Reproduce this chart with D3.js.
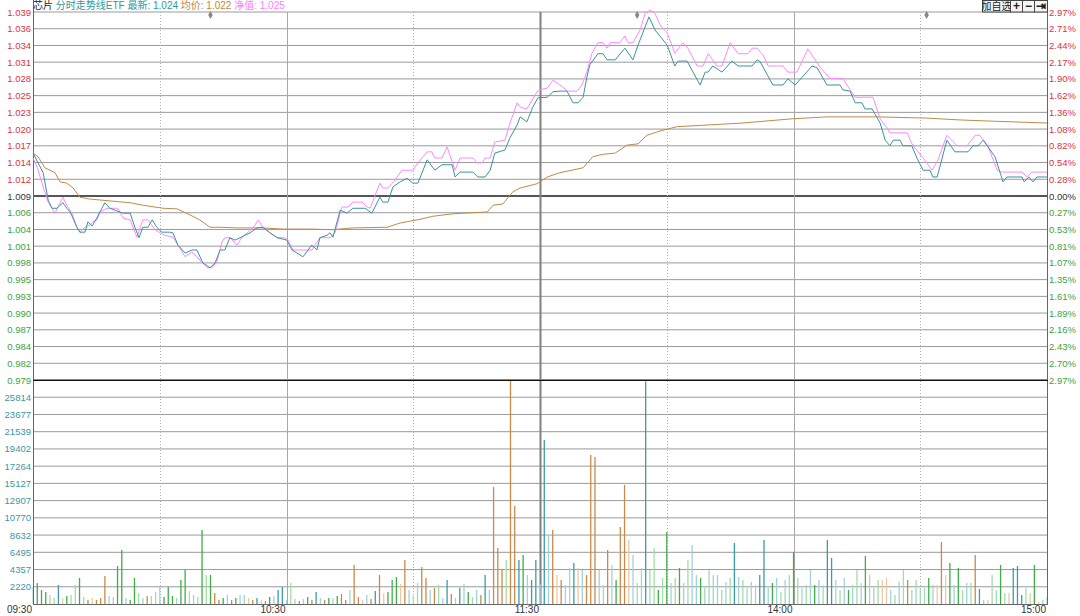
<!DOCTYPE html>
<html><head><meta charset="utf-8">
<script src="https://cdn.jsdelivr.net/npm/d3@7/dist/d3.min.js"></script>
<style>
html,body{margin:0;padding:0;background:#fff;}
svg{display:block;font-family:"Liberation Sans","Noto Sans CJK SC",Arial,sans-serif;}
</style></head>
<body><svg id="c" width="1080" height="616"></svg>
<script>
// ---------------- DATA ----------------
const prevClose = 1.009;
const priceTickLabels = ["1.039","1.036","1.034","1.031","1.028","1.025","1.023","1.020","1.017","1.014","1.012","1.009",
  "1.006","1.004","1.001","0.998","0.995","0.993","0.990","0.987","0.984","0.982","0.979"];
const pctTickLabels = ["2.97%","2.71%","2.44%","2.17%","1.90%","1.62%","1.36%","1.08%","0.82%","0.54%","0.28%","0.00%",
  "0.27%","0.53%","0.81%","1.07%","1.35%","1.61%","1.89%","2.16%","2.43%","2.70%","2.97%"];
const volTickLabels = ["25814","23677","21539","19402","17264","15127","12907","10770","8632","6495","4357","2220"];
const timeLabels = ["09:30","10:30","11:30","14:00","15:00"];
const timeLabelMin = [0,60,120,180,240];
const solidMin = [60,120,180];
const dottedMin = [30,90,150,210];
const markerMin = [42,143,211.5];

// price line [minute, price]
const priceSeries = [[0,1.0160],[2.4,1.0128],[3.6,1.0083],[4.5,1.0070],[5.7,1.0070],[6.4,1.0075],[7.1,1.0079],[8.0,1.0070],[8.8,1.0064],[10.4,1.0039],[11.1,1.0031],[12.3,1.0031],[13.0,1.0048],[14.0,1.0041],[15.1,1.0054],[16.3,1.0070],[17.0,1.0079],[18.2,1.0070],[21.3,1.0062],[23.0,1.0062],[24.1,1.0039],[25.1,1.0022],[26.0,1.0039],[27.2,1.0039],[28.2,1.0051],[29.3,1.0039],[30.5,1.0031],[32.4,1.0031],[33.1,1.0030],[34.3,1.0010],[36.0,0.9997],[37.6,1.0002],[38.8,1.0002],[40.2,0.9981],[41.9,0.9973],[43.1,0.9981],[44.3,1.0002],[45.4,1.0002],[46.6,1.0022],[47.8,1.0018],[49.0,1.0022],[51.4,1.0030],[53.0,1.0038],[54.4,1.0039],[56.1,1.0030],[57.8,1.0022],[60.1,1.0018],[61.3,1.0002],[63.9,0.9991],[66.0,1.0010],[67.2,1.0002],[67.9,1.0022],[69.6,1.0026],[70.3,1.0030],[71.0,1.0023],[72.7,1.0067],[74.3,1.0062],[75.7,1.0070],[78.6,1.0070],[80.2,1.0062],[82.1,1.0088],[82.8,1.0080],[84.0,1.0080],[85.2,1.0105],[86.9,1.0113],[88.5,1.0119],[89.9,1.0111],[91.1,1.0111],[93.3,1.0149],[95.1,1.0132],[96.8,1.0141],[99.2,1.0141],[99.9,1.0121],[101.1,1.0129],[104.1,1.0129],[105.3,1.0121],[107.0,1.0121],[108.2,1.0132],[109.3,1.0160],[111.7,1.0165],[112.9,1.0185],[114.6,1.0206],[115.3,1.0219],[116.9,1.0211],[118.3,1.0235],[119.5,1.0250],[121.7,1.0251],[123.1,1.0260],[124.7,1.0261],[126.4,1.0261],[127.8,1.0242],[129.0,1.0242],[130.2,1.0251],[131.1,1.0284],[131.8,1.0304],[133.7,1.0322],[134.9,1.0322],[135.9,1.0312],[137.8,1.0312],[140.1,1.0331],[142.0,1.0312],[143.2,1.0336],[145.8,1.0382],[147.2,1.0361],[150.1,1.0336],[151.9,1.0302],[152.7,1.0310],[154.8,1.0310],[157.9,1.0271],[159.1,1.0292],[159.8,1.0292],[160.9,1.0302],[163.1,1.0292],[165.4,1.0310],[166.9,1.0302],[170.2,1.0302],[171.4,1.0312],[172.1,1.0309],[175.1,1.0271],[177.5,1.0271],[178.7,1.0281],[180.4,1.0271],[184.4,1.0302],[185.6,1.0299],[187.9,1.0271],[191.0,1.0271],[191.7,1.0263],[193.4,1.0261],[194.6,1.0242],[196.2,1.0242],[196.9,1.0232],[198.6,1.0232],[200.5,1.0209],[201.7,1.0181],[202.8,1.0172],[203.6,1.0181],[205.2,1.0181],[205.9,1.0172],[208.0,1.0172],[209.2,1.0152],[210.7,1.0132],[212.3,1.0132],[213.0,1.0121],[214.0,1.0121],[216.3,1.0181],[218.2,1.0162],[221.3,1.0162],[222.5,1.0172],[223.7,1.0172],[224.9,1.0181],[227.7,1.0154],[229.6,1.0113],[230.5,1.0121],[234.1,1.0121],[234.6,1.0113],[235.7,1.0121],[236.7,1.0113],[237.6,1.0121],[239.5,1.0121],[240,1.0121]];

// net value (IOPV) line [minute, value]
const navSeries = [[0,1.0152],[1.0,1.0137],[2.4,1.0105],[3.6,1.0080],[5.2,1.0062],[6.4,1.0079],[7.1,1.0088],[8.0,1.0075],[9.2,1.0062],[10.4,1.0039],[11.1,1.0031],[12.3,1.0039],[13.5,1.0043],[14.2,1.0048],[15.1,1.0051],[15.9,1.0064],[17.5,1.0070],[20.1,1.0070],[21.3,1.0054],[23.0,1.0051],[24.6,1.0023],[26.0,1.0051],[27.2,1.0051],[28.9,1.0035],[30.1,1.0030],[31.2,1.0026],[33.1,1.0023],[34.3,1.0010],[36.0,0.9991],[37.6,0.9999],[38.8,0.9991],[41.2,0.9973],[42.4,0.9974],[43.5,0.9982],[44.7,1.0015],[45.4,1.0022],[46.6,1.0022],[48.3,1.0010],[49.5,1.0023],[50.9,1.0031],[52.1,1.0038],[53.3,1.0051],[54.4,1.0039],[56.1,1.0030],[57.8,1.0022],[59.6,1.0022],[60.4,1.0018],[61.5,1.0002],[66.0,1.0002],[67.2,1.0015],[67.9,1.0022],[70.3,1.0022],[71.5,1.0030],[73.1,1.0072],[74.6,1.0072],[75.7,1.0080],[77.9,1.0080],[79.1,1.0072],[79.8,1.0070],[82.1,1.0111],[82.8,1.0103],[84.0,1.0103],[85.7,1.0116],[87.3,1.0132],[89.9,1.0132],[91.1,1.0144],[93.3,1.0162],[94.4,1.0162],[95.1,1.0152],[96.8,1.0152],[98.0,1.0170],[99.9,1.0132],[101.1,1.0152],[104.1,1.0152],[105.1,1.0144],[106.3,1.0144],[107.0,1.0152],[108.2,1.0152],[109.3,1.0178],[111.7,1.0181],[112.9,1.0209],[114.6,1.0242],[115.3,1.0235],[116.9,1.0232],[119.3,1.0260],[120.0,1.0263],[121.7,1.0266],[123.1,1.0279],[124.7,1.0271],[126.6,1.0261],[128.8,1.0261],[129.9,1.0271],[131.1,1.0292],[132.3,1.0323],[133.7,1.0340],[134.9,1.0340],[135.9,1.0331],[136.6,1.0340],[138.9,1.0340],[140.1,1.0351],[140.8,1.0340],[142.0,1.0340],[143.7,1.0361],[144.9,1.0388],[146.0,1.0393],[147.2,1.0388],[148.4,1.0369],[150.1,1.0356],[151.9,1.0323],[153.8,1.0340],[155.0,1.0331],[157.2,1.0302],[158.6,1.0302],[159.8,1.0322],[161.9,1.0302],[163.1,1.0302],[165.0,1.0340],[166.9,1.0322],[169.2,1.0322],[170.2,1.0331],[171.4,1.0331],[172.8,1.0320],[174.0,1.0302],[177.5,1.0302],[178.7,1.0292],[180.8,1.0292],[182.0,1.0309],[183.4,1.0330],[186.3,1.0300],[188.6,1.0282],[191.7,1.0281],[193.4,1.0263],[194.6,1.0251],[198.8,1.0251],[200.5,1.0216],[202.1,1.0201],[202.8,1.0193],[206.9,1.0193],[207.6,1.0181],[208.3,1.0172],[209.5,1.0162],[210.7,1.0152],[212.8,1.0132],[214.2,1.0149],[216.3,1.0189],[218.7,1.0172],[221.1,1.0172],[223.0,1.0189],[224.1,1.0189],[226.0,1.0172],[228.2,1.0132],[229.3,1.0129],[234.1,1.0129],[235.3,1.0121],[236.4,1.0129],[239.5,1.0129],[240,1.0129]];

// average price line [minute, value]
const avgSeries = [[0,1.0160],[1.2,1.0154],[2.8,1.0136],[5.2,1.0128],[6.4,1.0113],[8.0,1.0111],[9.5,1.0103],[11.1,1.0088],[13.5,1.0085],[18.2,1.0082],[23.0,1.0079],[26.0,1.0075],[30.8,1.0070],[34.1,1.0069],[37.2,1.0059],[39.5,1.0051],[41.9,1.0039],[44.3,1.0039],[48.3,1.0038],[54.4,1.0038],[59.2,1.0036],[65.6,1.0036],[71.0,1.0035],[75.7,1.0038],[83.8,1.0039],[86.9,1.0046],[91.6,1.0052],[94.7,1.0057],[99.4,1.0061],[107.5,1.0064],[108.9,1.0075],[111.2,1.0077],[113.6,1.0097],[115.3,1.0103],[119.3,1.0110],[121.7,1.0121],[124.7,1.0128],[130.2,1.0136],[132.5,1.0154],[134.9,1.0158],[137.8,1.0160],[140.6,1.0173],[143.2,1.0175],[145.3,1.0189],[148.4,1.0196],[152.4,1.0203],[160.2,1.0206],[168.0,1.0209],[179.9,1.0216],[187.9,1.0219],[199.8,1.0219],[211.6,1.0217],[219.4,1.0214],[227.2,1.0212],[240,1.0209]];

// per-minute volume (241 minutes) and colour class
const volumes = [2110,2600,1740,1490,1120,740,2360,740,990,1120,2360,3230,870,500,740,500,740,3470,990,870,
  4710,6700,740,500,3230,1360,740,990,990,1490,2110,870,2110,990,740,2980,4220,1610,1120,870,
  9180,3600,3600,1360,500,740,1120,500,740,1120,1120,740,500,740,500,370,870,990,1740,2110,
  500,2600,620,370,620,870,500,1490,740,500,740,740,990,1240,500,1740,4840,870,500,1120,
  620,1610,3600,1360,1490,2980,3350,2480,5460,1740,990,2600,4590,3230,1740,1990,2360,740,2980,1240,
  740,1990,2480,1490,870,1740,1120,3600,1740,14520,6950,4220,5460,27790,12160,5460,6080,3600,2980,5460,
  2480,20350,8560,9180,3600,2980,2360,4470,5090,4470,4220,3600,18490,18240,4220,2360,6700,4840,2980,9550,
  14760,7940,6080,2600,4470,27600,4220,6950,1740,3230,8930,2600,3230,4470,2600,5460,7320,3600,3230,1990,
  4220,3600,3600,1740,2730,3230,7570,3350,2980,1990,2730,2360,3600,7940,1990,2600,3230,1490,2980,3600,
  6450,3230,1990,2360,4220,2360,2980,2360,7940,5710,2980,1740,3230,1740,2360,4220,2600,5960,3600,1990,
  2980,2980,3230,1740,1120,2730,4220,2980,1740,2980,1990,1990,3230,2360,2360,7690,3600,5090,2360,4470,
  1740,2600,2600,6080,1860,500,500,3600,1740,4840,1360,1360,4470,4710,1120,1990,1360,4840,250,500,870];
const volClass = ["lt","g","g","g","lg","lg","t","lo","g","lg","lg","g","lt","o","lo","o","o","o","lt","lt",
  "g","g","lt","g","g","lg","lt","o","lg","lg","lt","g","g","g","lt","g","g","lg","lt","lg",
  "g","lg","g","o","o","g","lt","o","g","lt","lt","lo","o","t","lo","o","g","lt","t","t",
  "lt","lg","lt","o","lt","g","o","t","lt","o","g","lt","g","o","o","lt","o","o","lo","lt",
  "o","t","o","lo","g","g","g","lo","o","lt","lg","lg","o","o","lt","o","lg","lt","t","o",
  "lt","t","lt","g","lg","lt","o","t","lt","o","o","o","lg","o","o","t","g","lt","t","t",
  "lt","t","lt","o","lo","o","lt","lt","t","lo","lt","o","o","o","lt","lg","o","lt","g","o",
  "o","lo","lt","lg","lt","t","lg","lg","g","lg","g","lt","lg","g","lt","lg","lt","lt","g","lt",
  "lg","lt","lt","lg","lt","lg","t","lt","lg","lt","lg","lt","t","t","lt","g","lt","lg","lt","lg",
  "g","lg","lt","lg","lt","g","lt","lg","t","t","lt","lg","lt","g","lt","lg","lt","g","lg","lt",
  "lg","lo","lo","lt","lg","lt","lg","o","lt","lg","lt","lg","g","lt","lo","o","lo","g","lt","g",
  "lg","lt","lg","o","t","lt","lo","lg","lt","g","lg","lo","t","t","t","lg","lo","g","lo","lt","lt"];
const volColors = {t:"#3a9ea8", lt:"#a3d2da", g:"#3fae47", lg:"#a6dca6", o:"#c98a4c", lo:"#ebc9a6"};

// ---------------- CHART ----------------
const L = 33, R = 1047, PT = 12, PB = 380, VB = 604;
const VMAX = 27790;
const svg = d3.select("#c");
const x = d3.scaleLinear().domain([0,240]).range([L,R]);
const yP = d3.scaleLinear().domain([prevClose-0.030, prevClose+0.030]).range([PB,PT]);
const yV = d3.scaleLinear().domain([0,VMAX]).range([VB,PB]);

const nP = priceTickLabels.length - 1;
const priceTickVals = priceTickLabels.map((s,i)=> prevClose+0.030 - i*0.060/nP);
const volTickVals = volTickLabels.map((s,i)=> VMAX*(volTickLabels.length - i)/13);

const g = svg.append("g");
// horizontal price grid
g.selectAll(".pg").data(priceTickVals).enter().append("line")
  .attr("x1",L).attr("x2",R).attr("y1",d=>yP(d)).attr("y2",d=>yP(d))
  .attr("stroke",(d,i)=> i===11 ? "#555" : (i===nP ? "#111" : "#9a9a9a"))
  .attr("stroke-width",(d,i)=> i===11 ? 2 : 1);
// volume grid
g.selectAll(".vg").data(volTickVals).enter().append("line")
  .attr("x1",L).attr("x2",R).attr("y1",d=>yV(d)).attr("y2",d=>yV(d))
  .attr("stroke","#9a9a9a").attr("stroke-width",1);

// vertical lines
g.selectAll(".vd").data(dottedMin).enter().append("line")
  .attr("x1",d=>Math.round(x(d))+0.5).attr("x2",d=>Math.round(x(d))+0.5).attr("y1",PT).attr("y2",VB)
  .attr("stroke","#b0b0b0").attr("stroke-dasharray","1,2");
g.selectAll(".vs").data(solidMin).enter().append("line")
  .attr("x1",d=>Math.round(x(d))+0.5).attr("x2",d=>Math.round(x(d))+0.5).attr("y1",PT).attr("y2",VB)
  .attr("stroke",d=>d===120?"#808080":"#a8a8a8").attr("stroke-width",d=>d===120?2:1);

// volume bars
g.selectAll(".vb").data(volumes).enter().append("rect")
  .attr("x",(d,i)=>x(i)-0.6).attr("width",1.3)
  .attr("y",d=>yV(d)).attr("height",d=>VB-yV(d))
  .attr("fill",(d,i)=>volColors[volClass[i]]);

// frame
g.append("line").attr("x1",L+0.5).attr("x2",L+0.5).attr("y1",PT-12).attr("y2",VB).attr("stroke","#666");
g.append("line").attr("x1",R+0.5).attr("x2",R+0.5).attr("y1",PT).attr("y2",VB).attr("stroke","#666");
g.append("line").attr("x1",L).attr("x2",R+1).attr("y1",VB+0.5).attr("y2",VB+0.5).attr("stroke","#666");
g.append("line").attr("x1",L).attr("x2",R+1).attr("y1",PB+0.5).attr("y2",PB+0.5).attr("stroke","#111");

// lines
const line = d3.line().x(d=>x(d[0])).y(d=>yP(d[1]));
g.append("path").datum(avgSeries).attr("d",line).attr("fill","none").attr("stroke","#c08a48").attr("stroke-width",1);
g.append("path").datum(navSeries).attr("d",line).attr("fill","none").attr("stroke","#ff88ff").attr("stroke-width",1);
g.append("path").datum(priceSeries).attr("d",line).attr("fill","none").attr("stroke","#3b939c").attr("stroke-width",1);

// markers
g.selectAll(".mk").data(markerMin).enter().append("path")
  .attr("d",d3.symbol().type(d3.symbolDiamond).size(18))
  .attr("transform",d=>`translate(${x(d)},${PT+3})`).attr("fill","#888");

// left price labels
g.selectAll(".pl").data(priceTickLabels).enter().append("text")
  .attr("x",L-2).attr("y",(d,i)=>yP(priceTickVals[i])+3.5).attr("text-anchor","end")
  .attr("font-size",9.5)
  .attr("fill",(d,i)=> i<11 ? "#e0323c" : (i===11 ? "#333" : "#3aa53a")).text(d=>d);
// right pct labels
g.selectAll(".rl").data(pctTickLabels).enter().append("text")
  .attr("x",R+2).attr("y",(d,i)=>yP(priceTickVals[i])+3.5).attr("text-anchor","start")
  .attr("font-size",9.5)
  .attr("fill",(d,i)=> i<11 ? "#e0323c" : (i===11 ? "#333" : "#3aa53a")).text(d=>d);
// volume labels
g.selectAll(".vl").data(volTickLabels).enter().append("text")
  .attr("x",L-2).attr("y",(d,i)=>yV(volTickVals[i])+3.5).attr("text-anchor","end")
  .attr("font-size",9.5).attr("fill","#3a98a8").text(d=>d);
// time labels
g.selectAll(".tl").data(timeLabels).enter().append("text")
  .attr("x",(d,i)=>x(timeLabelMin[i])-1).attr("y",613).attr("text-anchor","end")
  .attr("font-size",10).attr("fill","#333").text(d=>d);

// header
const hdr = g.append("text").attr("x",L).attr("y",9).attr("font-size",10);
hdr.append("tspan").attr("fill","#222").text("芯片 ");
hdr.append("tspan").attr("fill","#2c9aa2").text("分时走势线ETF 最新: 1.024 ");
hdr.append("tspan").attr("fill","#c08838").text("均价: 1.022 ");
hdr.append("tspan").attr("fill","#ff80ff").text("净值: 1.025");

// buttons top right
const btns = [{t:"加自选",w:28},{t:"+",w:12},{t:"−",w:12},{t:"⇥",w:13}];
let bx = 982;
btns.forEach(b=>{
  g.append("rect").attr("x",bx+0.5).attr("y",0.5).attr("width",b.w).attr("height",11.5)
    .attr("fill","#f4f4f4").attr("stroke","#444");
  g.append("text").attr("x",bx+b.w/2+0.5).attr("y",10).attr("text-anchor","middle")
    .attr("font-size",b.t.length>1?10:12).attr("font-weight",b.t.length>1?"normal":"bold")
    .attr("fill","#222").text(b.t);
  bx += b.w;
});
</script></body></html>
